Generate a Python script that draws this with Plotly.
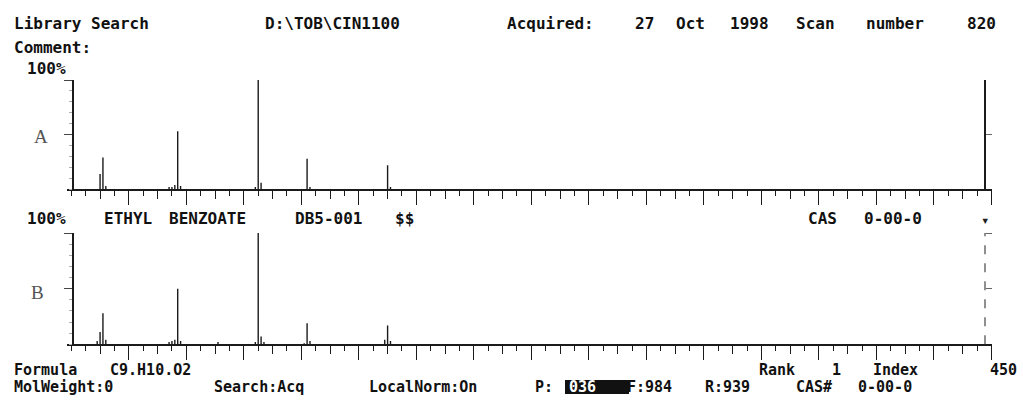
import plotly.graph_objects as go

W, H = 1023, 414

# ---------------- data ----------------
# Panel A: acquired spectrum (m/z, relative intensity %)
mz_a = [50, 51, 52, 74, 75, 76, 77, 78, 104, 105, 106, 122, 123, 150, 151]
int_a = [14, 29, 3, 2, 2, 4, 53, 3, 2, 100, 6, 28, 2, 22, 2]

# Panel B: library spectrum ETHYL BENZOATE
mz_b = [49, 50, 51, 52, 74, 75, 76, 77, 78, 91, 104, 105, 106, 107, 121, 122, 123, 149, 150, 151]
int_b = [3, 11, 28, 4, 2, 3, 4, 50, 3, 2, 2, 100, 7, 2, 1, 19, 3, 4, 17, 3]

major_ticks = list(range(60, 361, 20))
mid_ticks = list(range(50, 351, 20))
y_ticks_left = [50, 100]

header_1 = ["Library Search", "D:\\TOB\\CIN1100", "Acquired:", "27", "Oct", "1998",
            "Scan", "number", "820"]
header_1_x = [12, 263, 505, 633, 674, 728, 794, 864, 965]
comment = "Comment:"
pct_label = "100%"
lib_words = ["ETHYL", "BENZOATE", "DB5-001", "$$", "CAS", "0-00-0"]
lib_words_x = [102, 167, 293, 393, 806, 862]
foot_1 = ["Formula", "C9.H10.O2", "Rank", "1", "Index", "450"]
foot_1_x = [12, 108, 757, 830, 871, 988]
foot_2 = ["MolWeight:0", "Search:Acq", "LocalNorm:On", "P:", "F:984", "R:939", "CAS#", "0-00-0"]
foot_2_x = [12, 212, 367, 533, 625, 703, 794, 856]
highlight = "036"

# ---------------- geometry helpers ----------------
def px(x):
    return x / W

def py(y):
    return 1 - y / H

INK = "#1b1b1b"
FONT = "DejaVu Sans Mono"

def stems(mz, inten):
    xs, ys = [], []
    for m, v in zip(mz, inten):
        xs += [m, m, None]
        ys += [0, v, None]
    return xs, ys

X_DOM = [px(67), px(992)]
X_RANGE = [38.5, 360.2]
A_DOM = [py(189.3), py(80)]
B_DOM = [py(344.3), py(233)]

fig = go.Figure()

xa, ya = stems(mz_a, int_a)
fig.add_trace(go.Scatter(x=xa, y=ya, mode="lines", line=dict(color=INK, width=1.4),
                         xaxis="x", yaxis="y", showlegend=False, hoverinfo="skip"))
xb, yb = stems(mz_b, int_b)
fig.add_trace(go.Scatter(x=xb, y=yb, mode="lines", line=dict(color=INK, width=1.4),
                         xaxis="x3", yaxis="y3", showlegend=False, hoverinfo="skip"))
# empty traces so that the overlay axes are drawn
for xr, yr in [("x2", "y"), ("x", "y2"), ("x4", "y3"), ("x3", "y4")]:
    fig.add_trace(go.Scatter(x=[], y=[], xaxis=xr, yaxis=yr, showlegend=False, hoverinfo="skip"))

def main_x(anchor):
    return dict(domain=X_DOM, range=X_RANGE, anchor=anchor, showline=True, linecolor=INK,
                linewidth=1.8, ticks="outside", tickmode="array", tickvals=major_ticks,
                ticklen=14, tickwidth=1.3, tickcolor=INK, showticklabels=False,
                showgrid=False, zeroline=False,
                minor=dict(dtick=5, tick0=0, ticks="outside", ticklen=5, tickwidth=1.2,
                           tickcolor=INK, showgrid=False))

def mid_x(over, anchor):
    return dict(overlaying=over, anchor=anchor, side="bottom", range=X_RANGE, showline=False,
                ticks="outside", tickmode="array", tickvals=mid_ticks, ticklen=9,
                tickwidth=1.2, tickcolor=INK, showticklabels=False, showgrid=False,
                zeroline=False)

def left_y(dom):
    return dict(domain=dom, range=[0, 100], anchor="free", position=px(73), showline=True,
                linecolor=INK, linewidth=1.6, ticks="outside", tickmode="array",
                tickvals=y_ticks_left, ticklen=8, tickwidth=1.2, tickcolor="#444",
                showticklabels=False, showgrid=False, zeroline=False,
                minor=dict(dtick=10, tick0=0, ticks="outside", ticklen=3, tickwidth=1,
                           tickcolor="#aaa", showgrid=False))

def right_y(over, line, tickvals):
    return dict(overlaying=over, range=[0, 100], anchor="free", position=px(985), side="right",
                showline=line, linecolor=INK, linewidth=1.6, ticks="outside",
                tickmode="array", tickvals=tickvals, ticklen=6, tickwidth=1.2,
                tickcolor="#666", showticklabels=False, showgrid=False, zeroline=False)

fig.update_layout(
    width=W, height=H, margin=dict(l=0, r=0, t=0, b=0),
    paper_bgcolor="white", plot_bgcolor="white", showlegend=False,
    xaxis=main_x("y"), xaxis2=mid_x("x", "y"),
    xaxis3=main_x("y3"), xaxis4=mid_x("x3", "y3"),
    yaxis=left_y(A_DOM), yaxis2=right_y("y", True, [50]),
    yaxis3=left_y(B_DOM), yaxis4=right_y("y3", False, [50, 100]),
)

# dashed right frame line of panel B
fig.add_shape(type="line", xref="paper", yref="paper", x0=px(985), x1=px(985),
              y0=B_DOM[0], y1=B_DOM[1], line=dict(color="#555", width=1.3, dash="dash"))

# highlight box in the status line
fig.add_shape(type="rect", xref="paper", yref="paper", x0=px(565), x1=px(629),
              y0=py(394), y1=py(380), fillcolor="#111", line=dict(width=0), layer="above")

def txt(s, x, y, size=16, color="#111", family=FONT, weight=700):
    fig.add_annotation(text=s, x=px(x), y=py(y), xref="paper", yref="paper",
                       xanchor="left", yanchor="middle", showarrow=False,
                       font=dict(family=family, size=size, color=color, weight=weight))

for s, x in zip(header_1, header_1_x):
    txt(s, x, 23.5)
txt(comment, 12, 47)
txt(pct_label, 25, 68)
txt(pct_label, 25, 218)
for s, x in zip(lib_words, lib_words_x):
    txt(s, x, 218)
for s, x in zip(foot_1, foot_1_x):
    txt(s, x, 369.5, size=15)
for s, x in zip(foot_2, foot_2_x):
    txt(s, x, 387, size=15)
txt(highlight, 567, 387, size=15, color="white")

# marker above panel B right frame
txt("▾", 979, 220, size=14, color="#222", weight=400)

# panel letters
txt("A", 32, 136, size=19, color="#555", family="Liberation Serif", weight=400)
txt("B", 29, 292, size=19, color="#555", family="Liberation Serif", weight=400)

fig.write_html("out.html", config={"displayModeBar": False},
               post_script="document.body.style.margin='0px';document.body.style.padding='0px';")
